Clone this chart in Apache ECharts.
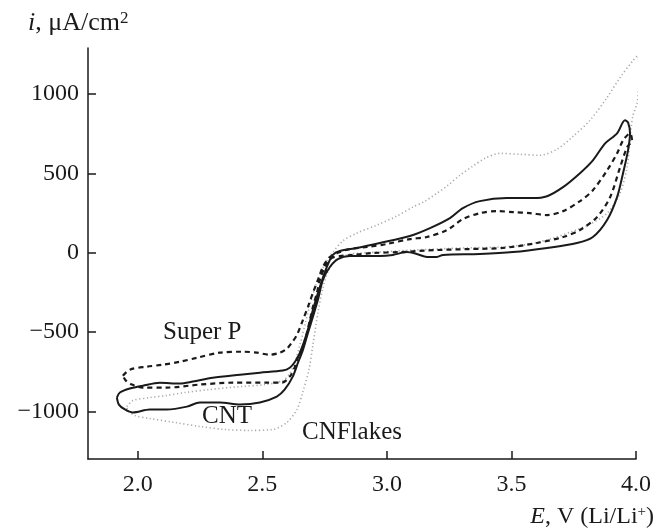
<!DOCTYPE html>
<html>
<head>
<meta charset="utf-8">
<script src="https://cdn.jsdelivr.net/npm/echarts@6/dist/echarts.min.js"></script>
<style>
  html, body { margin: 0; padding: 0; background: #fff; }
  #chart { width: 656px; height: 531px; }
</style>
</head>
<body>
<div id="chart"></div>
<script>
// potential E (V vs Li/Li+), current i (uA/cm2) -- closed CV loops
const cntLoop = [
  [1.916, -913], [1.928, -881], [1.968, -856], [2.020, -838], [2.088, -819], [2.169, -825],
  [2.221, -812], [2.301, -788], [2.410, -769], [2.490, -756], [2.582, -743], [2.610, -725],
  [2.631, -687], [2.651, -630], [2.679, -505], [2.703, -360], [2.731, -215], [2.759, -90],
  [2.783, -14], [2.811, 11], [2.880, 30], [2.972, 61], [3.092, 105], [3.173, 155],
  [3.253, 218], [3.305, 281], [3.373, 325], [3.482, 344], [3.586, 344], [3.643, 356],
  [3.707, 413], [3.775, 501], [3.827, 582], [3.876, 689], [3.924, 752], [3.956, 834],
  [3.968, 821], [3.976, 752], [3.968, 645], [3.948, 501], [3.924, 350], [3.884, 206],
  [3.827, 99], [3.763, 61], [3.643, 30], [3.506, 4], [3.373, -8], [3.225, -14],
  [3.201, -27], [3.161, -27], [3.120, -8], [3.080, 4], [3.024, -14], [2.972, -21],
  [2.892, -21], [2.851, -21], [2.803, -40], [2.771, -90], [2.743, -172], [2.723, -297],
  [2.703, -404], [2.683, -505], [2.663, -612], [2.643, -693], [2.622, -781], [2.590, -862],
  [2.558, -907], [2.490, -944], [2.410, -957], [2.329, -944], [2.249, -944], [2.197, -970],
  [2.116, -988], [2.048, -988], [1.980, -1007], [1.948, -988], [1.924, -957], [1.916, -913]
];

const superPLoop = [
  [1.940, -775], [1.968, -737], [2.036, -718], [2.100, -706], [2.169, -687], [2.237, -662],
  [2.329, -630], [2.422, -624], [2.478, -630], [2.530, -643], [2.570, -630], [2.598, -605],
  [2.618, -567], [2.639, -517], [2.663, -423], [2.683, -341], [2.703, -253], [2.723, -172],
  [2.743, -90], [2.771, -27], [2.811, 4], [2.851, 23], [2.920, 36], [3.000, 55],
  [3.092, 86], [3.161, 99], [3.241, 143], [3.305, 212], [3.373, 249], [3.442, 262],
  [3.506, 256], [3.574, 249], [3.643, 237], [3.707, 262], [3.775, 325], [3.827, 394],
  [3.884, 519], [3.924, 626], [3.948, 708], [3.976, 752], [3.984, 708], [3.964, 664],
  [3.936, 538], [3.896, 350], [3.843, 224], [3.775, 143], [3.707, 99], [3.602, 61],
  [3.466, 30], [3.333, 23], [3.201, 17], [3.052, 4], [2.944, -2], [2.863, -14],
  [2.811, -21], [2.779, -33], [2.751, -90], [2.731, -172], [2.719, -253], [2.703, -341],
  [2.691, -423], [2.679, -505], [2.663, -593], [2.643, -655], [2.631, -718], [2.610, -781],
  [2.578, -819], [2.518, -819], [2.382, -819], [2.249, -831], [2.116, -850], [2.020, -850],
  [1.976, -831], [1.952, -806], [1.940, -775]
];

const cnFlakesLoop = [
  [1.956, -970], [1.980, -932], [2.048, -913], [2.116, -900], [2.189, -881], [2.289, -862],
  [2.410, -844], [2.510, -831], [2.582, -806], [2.610, -762], [2.631, -687], [2.651, -580],
  [2.671, -454], [2.691, -329], [2.715, -203], [2.739, -109], [2.763, -40], [2.783, 4],
  [2.823, 74], [2.880, 124], [2.960, 174], [3.040, 231], [3.104, 287], [3.153, 325],
  [3.201, 375], [3.241, 419], [3.293, 488], [3.345, 545], [3.394, 595], [3.454, 626],
  [3.534, 620], [3.614, 614], [3.683, 652], [3.747, 733], [3.815, 834], [3.884, 978],
  [3.936, 1104], [3.988, 1211], [4.006, 1242], [4.012, 1148], [4.010, 1022], [4.004, 941],
  [3.988, 865], [3.980, 783], [3.976, 708], [3.964, 538], [3.936, 375], [3.884, 249],
  [3.815, 180], [3.747, 136], [3.667, 92], [3.574, 55], [3.454, 36], [3.305, 30],
  [3.104, 17], [2.972, 4], [2.892, -2], [2.839, -14], [2.791, -52], [2.763, -121],
  [2.743, -222], [2.723, -379], [2.703, -580], [2.687, -737], [2.663, -875], [2.639, -988],
  [2.598, -1070], [2.542, -1114], [2.450, -1120], [2.349, -1114], [2.249, -1095], [2.149, -1070],
  [2.048, -1045], [1.988, -1026], [1.960, -995], [1.956, -970]
];

const xTicks = [2.0, 2.5, 3.0, 3.5, 4.0];
const yTicks = [-1000, -500, 0, 500, 1000];

const FONT = 'Liberation Serif';
const INK = '#1a1a1a';

const chart = echarts.init(document.getElementById('chart'), null, { renderer: 'canvas' });

const axisCommon = {
  type: 'value',
  axisLine: { show: true, onZero: false, lineStyle: { color: INK, width: 1.5 } },
  axisTick: { show: true, inside: true, length: 8, lineStyle: { color: INK, width: 1.5 } },
  splitLine: { show: false },
  axisLabel: { color: INK, fontFamily: FONT, fontSize: 24 }
};

chart.setOption({
  backgroundColor: '#fff',
  animation: false,
  grid: { left: 88, right: 20, top: 48, bottom: 72 },
  xAxis: {
    ...axisCommon,
    min: 1.8,
    max: 4.0,
    axisTick: { ...axisCommon.axisTick, customValues: xTicks },
    axisLabel: {
      ...axisCommon.axisLabel,
      customValues: xTicks,
      margin: 14,
      formatter: v => v.toFixed(1)
    }
  },
  yAxis: {
    ...axisCommon,
    min: -1300,
    max: 1290,
    axisTick: { ...axisCommon.axisTick, customValues: yTicks },
    axisLabel: {
      ...axisCommon.axisLabel,
      customValues: yTicks,
      margin: 9,
      formatter: v => (v < 0 ? '\u2212' + Math.abs(v) : String(v))
    }
  },
  series: [
    {
      name: 'CNFlakes',
      type: 'line',
      data: cnFlakesLoop,
      showSymbol: false,
      smooth: 0.3,
      clip: false,
      lineStyle: { color: '#a8a8a8', width: 1.6, type: [1.2, 2.6], cap: 'butt' },
      z: 1
    },
    {
      name: 'Super P',
      type: 'line',
      data: superPLoop,
      showSymbol: false,
      smooth: 0.3,
      lineStyle: { color: INK, width: 2.2, type: [5, 4] },
      z: 2
    },
    {
      name: 'CNT',
      type: 'line',
      data: cntLoop,
      showSymbol: false,
      smooth: 0.3,
      lineStyle: { color: INK, width: 2 },
      z: 3
    }
  ],
  graphic: [
    {
      type: 'text', left: 28, top: 10,
      style: {
        text: '{it|i}, \u03bcA/cm{sup|2}',
        fill: INK, fontFamily: FONT, fontSize: 26,
        rich: {
          it: { fontStyle: 'italic', fontFamily: FONT, fontSize: 26, fill: INK },
          sup: { fontFamily: FONT, fontSize: 17, fill: INK, verticalAlign: 'top' }
        }
      }
    },
    {
      type: 'text', right: 2, top: 505,
      style: {
        text: '{it|E}, V (Li/Li{sup|+})',
        fill: INK, fontFamily: FONT, fontSize: 24,
        rich: {
          it: { fontStyle: 'italic', fontFamily: FONT, fontSize: 24, fill: INK },
          sup: { fontFamily: FONT, fontSize: 15, fill: INK, verticalAlign: 'top' }
        }
      }
    },
    {
      type: 'text', left: 163, top: 320,
      style: { text: 'Super P', fill: INK, fontFamily: FONT, fontSize: 25 }
    },
    {
      type: 'text', left: 202, top: 404,
      style: { text: 'CNT', fill: INK, fontFamily: FONT, fontSize: 25 }
    },
    {
      type: 'text', left: 302, top: 420,
      style: { text: 'CNFlakes', fill: INK, fontFamily: FONT, fontSize: 25 }
    }
  ]
});
</script>
</body>
</html>
